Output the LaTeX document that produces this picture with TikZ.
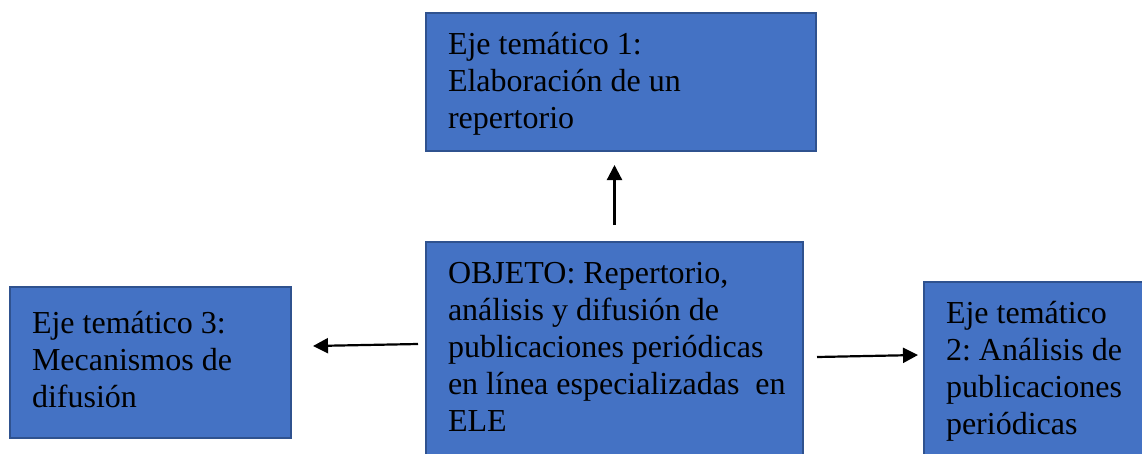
\documentclass[tikz,border=0pt]{standalone}
\usepackage{fontspec}
\setmainfont{Liberation Serif}
\usetikzlibrary{arrows.meta}
\definecolor{azul}{HTML}{4472C4}
\definecolor{borde}{HTML}{2F528F}
\tikzset{
  tema/.style 2 args={draw=borde, fill=azul, line width=1.5pt, anchor=north west,
    outer sep=0pt, inner xsep=22pt, inner ysep=16pt, font=\fontsize{32}{37}\selectfont,
    execute at begin node={\begin{minipage}[t][#2][t]{#1}\raggedright\frenchspacing\strut},
    execute at end node={\end{minipage}}},
  flecha/.style={line width=2.2pt, -{Triangle[width=15pt,length=15pt]}},
}
\begin{document}
\begin{tikzpicture}[x=1pt, y=-1pt]
				\useasboundingbox (0, 0) rectangle (1142, 453);
				\clip (0, 0) rectangle (1142, 453);
				\node [tema={346pt}{106pt}] (ejeuno) at (426, 13) {Eje temático 1:\\Elaboración de un\\repertorio};
				\node [tema={333pt}{200pt}] (objeto) at (426, 242) {OBJETO: Repertorio,\\análisis y difusión de\\publicaciones periódicas\\\mbox{en línea especializadas\ \ en}\\ELE};
				\node [tema={237pt}{109pt}, inner ysep=21pt] (ejetres) at (10, 287) {Eje temático 3:\\Mecanismos de\\difusión};
				\node [tema={200pt}{168pt}] (ejedos) at (924, 282) {Eje temático\\2: Análisis de\\publicaciones\\periódicas};
				\draw [flecha] ([yshift=17pt]objeto.north) -- ([yshift=-14pt]objeto.north |- ejeuno.south);
				\draw [flecha] ([shift={(-8, -14)}]objeto.west) -- ([shift={(22, -16.5)}]ejetres.east);
				\draw [flecha] ([shift={(14, -1)}]objeto.east) -- ([shift={(-6, -27)}]ejedos.west);
\end{tikzpicture}
\end{document}
